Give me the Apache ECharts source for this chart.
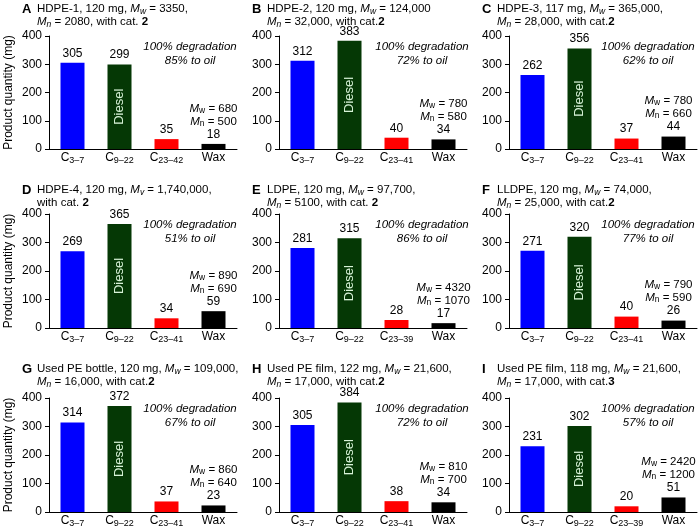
<!DOCTYPE html>
<html><head><meta charset="utf-8">
<script src="https://cdn.jsdelivr.net/npm/echarts@6/dist/echarts.min.js"></script>
<style>html,body{margin:0;padding:0;background:#fff}#c{width:700px;height:531px}</style>
</head><body><div id="c"></div><script>
// ---- data ----
const panelLetters = ['A','B','C','D','E','F','G','H','I'];
const sampleNames = ['HDPE-1','HDPE-2','HDPE-3','HDPE-4','LDPE','LLDPE','Used PE bottle','Used PE film','Used PE film'];
const sampleMass = ['120 mg','120 mg','117 mg','120 mg','120 mg','120 mg','120 mg','122 mg','118 mg'];
const molWeightType = ['w','w','w','v','w','w','w','w','w'];
const molWeightTitle = ['3350,','124,000','365,000,','1,740,000,','97,700,','74,000,','109,000,','21,600,','21,600,'];
const mnTitle = ['2080','32,000','28,000',null,'5100','25,000','16,000','17,000','17,000'];
const catText = ['cat. ','cat.','cat.','cat. ','cat. ','cat.','cat.','cat.','cat.'];
const catNumber = ['2','2','2','2','2','2','2','2','3'];
const lightRange = ['3–7','3–7','3–7','3–7','3–7','3–7','3–7','3–7','3–7'];
const dieselRange = ['9–22','9–22','9–22','9–22','9–22','9–22','9–22','9–22','9–22'];
const heavyRange = ['23–42','23–41','23–41','23–41','23–39','23–41','23–41','23–41','23–39'];
const valuesLight = [305,312,262,269,281,271,314,305,231];
const valuesDiesel = [299,383,356,365,315,320,372,384,302];
const valuesHeavy = [35,40,37,34,28,40,37,38,20];
const valuesWax = [18,34,44,59,17,26,23,34,51];
const degradationPct = [100,100,100,100,100,100,100,100,100];
const oilPct = [85,72,62,51,86,77,67,72,57];
const waxMw = [680,780,780,890,4320,790,860,810,2420];
const waxMn = [500,580,660,690,1070,590,640,700,1200];
const yTicks = [0,100,200,300,400];
const yName = 'Product quantity (mg)';

// ---- layout / style ----
const FONT = '"Liberation Sans", Arial, Helvetica, sans-serif';
const colX = [49, 279, 509];
const rowTop = [36, 214, 398];
const rowH = [113, 114, 114];
const titleY = [9, 190, 369];
const annDX = [141, 143, 139];
const GW = 188;
const barColors = ['#0000ff', '#053805', '#ff0000', '#000000'];

const grids = [], xAxes = [], yAxes = [], series = [], graphics = [];
function makeRich(padR) {
  return {
    t: {fontSize: 12, lineHeight: 13, fontFamily: FONT, color: '#000', align: 'center'},
    m: {fontSize: 11.5, lineHeight: 13, fontFamily: FONT, color: '#000', align: 'center'},
    mr: {fontSize: 11.5, lineHeight: 13, fontFamily: FONT, color: '#000', align: 'center', padding: [0, padR, 0, 0]},
    i: {fontSize: 11.5, lineHeight: 13, fontStyle: 'italic', fontFamily: FONT, color: '#000', align: 'center'},
    s: {fontSize: 8.5, lineHeight: 9, verticalAlign: 'bottom', fontFamily: FONT, color: '#000', align: 'center'}
  };
}
const titleRich = {
  t: {fontSize: 11.5, lineHeight: 14, fontFamily: FONT, fill: '#000', color: '#000'},
  i: {fontSize: 11.5, lineHeight: 14, fontStyle: 'italic', fontFamily: FONT, fill: '#000', color: '#000'},
  s: {fontSize: 8.5, lineHeight: 9, fontStyle: 'italic', verticalAlign: 'bottom', fontFamily: FONT, fill: '#000', color: '#000'},
  b: {fontSize: 11.5, lineHeight: 14, fontWeight: 'bold', fontFamily: FONT, fill: '#000', color: '#000'}
};

for (let p = 0; p < 9; p++) {
  const col = p % 3, row = Math.floor(p / 3);
  const left = colX[col], top = rowTop[row];
  grids.push({left: left, top: top, width: GW, height: rowH[row]});
  xAxes.push({
    gridIndex: p, type: 'category',
    data: ['C|' + lightRange[p], 'C|' + dieselRange[p], 'C|' + heavyRange[p], 'Wax'],
    axisLine: {lineStyle: {color: '#000', width: 1}},
    axisTick: {length: 4, lineStyle: {color: '#000'}},
    axisLabel: {
      margin: 2, interval: 0,
      formatter: v => v.indexOf('C|') === 0 ? '{c|C}{s|' + v.slice(2) + '}' : '{c|' + v + '}',
      rich: {
        c: {fontSize: 12, lineHeight: 14, fontFamily: FONT, color: '#000'},
        s: {fontSize: 9, lineHeight: 8, verticalAlign: 'bottom', fontFamily: FONT, color: '#000'}
      }
    }
  });
  yAxes.push({
    gridIndex: p, type: 'value', min: yTicks[0], max: yTicks[yTicks.length - 1], interval: yTicks[1] - yTicks[0],
    splitLine: {show: false},
    axisLine: {show: true, lineStyle: {color: '#000', width: 1}},
    axisTick: {show: true, length: 4, lineStyle: {color: '#000'}},
    axisLabel: {fontSize: 12, color: '#000', fontFamily: FONT, margin: 7},
    name: col === 0 ? yName : '', nameLocation: 'middle', nameGap: 34,
    nameTextStyle: {fontSize: 12, color: '#000', fontFamily: FONT}
  });
  const vals = [valuesLight[p], valuesDiesel[p], valuesHeavy[p], valuesWax[p]];
  const padR = col === 2 ? 10 : 0;
  series.push({
    type: 'bar', xAxisIndex: p, yAxisIndex: p, barWidth: 24, barGap: '-100%',
    data: vals.map((v, i) => ({value: v, itemStyle: {color: barColors[i]}})),
    label: {
      show: true, position: 'top', distance: 3,
      formatter: params => params.dataIndex === 3
        ? '{i|M}{s|w}{mr| = ' + waxMw[p] + '}\n{i|M}{s|n}{mr| = ' + waxMn[p] + '}\n{t|' + params.value + '}'
        : '{t|' + params.value + '}',
      rich: makeRich(padR)
    }
  });
  series.push({
    type: 'bar', xAxisIndex: p, yAxisIndex: p, barWidth: 24, barGap: '-100%', silent: true, z: 3,
    data: ['-', valuesDiesel[p], '-', '-'],
    itemStyle: {color: 'rgba(0,0,0,0)'},
    label: {show: true, position: 'inside', rotate: 90, formatter: 'Diesel', color: '#d8f3d8', fontSize: 13, fontFamily: FONT}
  });
  // titles
  const ty = titleY[row];
  graphics.push({type: 'text', x: left - 27, y: ty, style: {text: panelLetters[p], font: 'bold 13px ' + FONT, fill: '#000', textVerticalAlign: 'middle', verticalAlign: 'middle'}});
  const line1 = '{t|' + sampleNames[p] + ', ' + sampleMass[p] + ', }{i|M}{s|' + molWeightType[p] + '}{t| = ' + molWeightTitle[p] + '}';
  const line2 = (mnTitle[p] ? '{i|M}{s|n}{t| = ' + mnTitle[p] + ', with ' + catText[p] + '}' : '{t|with ' + catText[p] + '}') + '{b|' + catNumber[p] + '}';
  graphics.push({type: 'text', x: left - 12, y: ty, style: {text: line1, rich: titleRich, fill: '#000', textVerticalAlign: 'middle', verticalAlign: 'middle'}});
  graphics.push({type: 'text', x: left - 12, y: ty + 13, style: {text: line2, rich: titleRich, fill: '#000', textVerticalAlign: 'middle', verticalAlign: 'middle'}});
  // annotations
  graphics.push({type: 'text', x: left + annDX[col], y: top + 11, style: {text: degradationPct[p] + '% degradation', font: 'italic 11.5px ' + FONT, fill: '#000', textAlign: 'center', align: 'center', textVerticalAlign: 'middle', verticalAlign: 'middle'}});
  graphics.push({type: 'text', x: left + annDX[col], y: top + 25, style: {text: oilPct[p] + '% to oil', font: 'italic 11.5px ' + FONT, fill: '#000', textAlign: 'center', align: 'center', textVerticalAlign: 'middle', verticalAlign: 'middle'}});
}

const chart = echarts.init(document.getElementById('c'), null, {renderer: 'canvas'});
chart.setOption({
  animation: false,
  backgroundColor: '#fff',
  textStyle: {fontFamily: FONT},
  grid: grids, xAxis: xAxes, yAxis: yAxes, series: series, graphic: graphics
});
</script></body></html>
